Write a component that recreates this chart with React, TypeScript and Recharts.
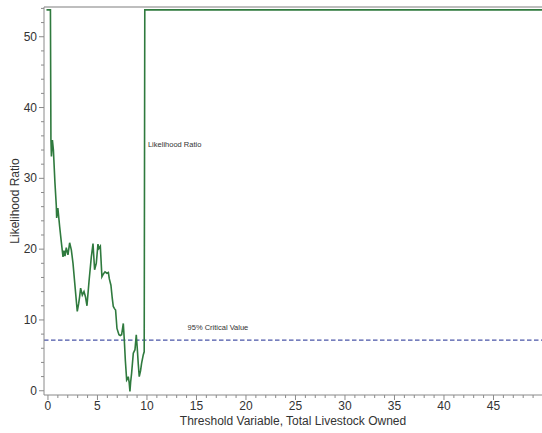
import React from 'react';
import {
    LineChart,
    Line,
    XAxis,
    YAxis,
    ReferenceLine,
    ReferenceDot,
    Label
} from 'recharts';

// Threshold values (total livestock owned) and the likelihood ratio
const thresholdX = [
    -0.15, 0.25, 0.3, 0.35, 0.45, 0.55, 0.7, 0.84, 0.88, 1.0,
    1.18, 1.35, 1.52, 1.62, 1.72, 1.85, 2.02, 2.19, 2.36, 2.53,
    2.75, 2.96, 3.1, 3.2, 3.3, 3.47, 3.64, 3.8, 3.94, 4.15,
    4.38, 4.55, 4.71, 4.88, 5.05, 5.15, 5.29, 5.45, 5.6, 5.76,
    5.95, 6.1, 6.2, 6.36, 6.5, 6.6, 6.72, 6.83, 6.97, 7.17,
    7.3, 7.44, 7.61, 7.71, 7.82, 7.95, 8.05, 8.11, 8.2, 8.28,
    8.35, 8.45, 8.62, 8.79, 8.92, 9.02, 9.12, 9.22, 9.35, 9.46,
    9.63, 9.72, 9.78, 49.9
];
const likelihoodRatio = [
    53.8, 53.8, 35.5, 33.1, 35.4, 34.0, 29.5, 26.2, 24.4, 25.8,
    23.2, 21.0, 18.9, 19.8, 19.0, 20.2, 19.2, 20.9, 19.9, 18.0,
    14.5, 11.2, 12.3, 13.3, 14.5, 13.5, 14.0, 13.2, 12.0, 15.5,
    18.9, 20.8, 17.1, 18.0, 20.7, 20.1, 20.4, 16.1, 16.5, 16.8,
    16.6, 16.7, 15.8, 14.9, 13.0, 11.9, 11.6, 11.4, 8.8, 7.9,
    7.8, 7.9, 9.5, 7.2, 4.2, 1.5, 1.7, 2.0, 1.2, -0.1,
    1.2, 2.5, 5.3, 5.8, 7.9, 6.0, 3.8, 2.0, 2.8, 3.9,
    5.1, 5.5, 53.8, 53.8
];

const criticalValue = 7.15;

const xMajorTicks = [0, 5, 10, 15, 20, 25, 30, 35, 40, 45];
const yMajorTicks = [0, 10, 20, 30, 40, 50];
// minor ticks every 1 on x, every 2 on y
const xTicks = Array.from({ length: 50 }, (_, i) => i);
const yTicks = Array.from({ length: 28 }, (_, i) => i * 2);

const X_DOMAIN: [number, number] = [-0.4, 49.9];
const Y_DOMAIN: [number, number] = [-0.6, 54.2];

const data = thresholdX.map((x, i) => ({ x, lr: likelihoodRatio[i] }));

const FONT = '"Liberation Sans", Arial, sans-serif';
const AXIS_GRAY = '#8a8a8a';

const AXIS_Y_POS = 395; // x-axis line
const AXIS_X_POS = 44;  // y-axis line

const XTick = (props: any) => {
    const { x, payload } = props;
    const major = xMajorTicks.includes(payload.value);
    return (
        <g>
            <line x1={x} x2={x} y1={AXIS_Y_POS} y2={AXIS_Y_POS + (major ? 5 : 3)} stroke={AXIS_GRAY} />
            {major && (
                <text x={x} y={409.5} textAnchor="middle" fontSize={12} fill="#333" fontFamily={FONT}>
                    {payload.value}
                </text>
            )}
        </g>
    );
};

const YTick = (props: any) => {
    const { y, payload } = props;
    const major = yMajorTicks.includes(payload.value);
    return (
        <g>
            <line x1={AXIS_X_POS - (major ? 5 : 3)} x2={AXIS_X_POS} y1={y} y2={y} stroke={AXIS_GRAY} />
            {major && (
                <text x={37} y={y + 4} textAnchor="end" fontSize={12} fill="#333" fontFamily={FONT}>
                    {payload.value}
                </text>
            )}
        </g>
    );
};

const annotation = (text: string) => (p: any) => (
    <text x={p.cx} y={p.cy} fontSize={7.5} fill="#333" fontFamily={FONT}>
        {text}
    </text>
);

export default function App() {
    return (
        <div style={{ position: 'absolute', left: 0, top: 0, background: '#fff' }}>
            <LineChart
                width={542}
                height={433}
                data={data}
                margin={{ top: 7, right: 0, left: 0, bottom: 0 }}
            >
                <XAxis
                    type="number"
                    dataKey="x"
                    domain={X_DOMAIN}
                    allowDataOverflow
                    ticks={xTicks}
                    interval={0}
                    height={38}
                    stroke={AXIS_GRAY}
                    tickLine={false}
                    tick={<XTick />}
                >
                    <Label
                        content={(p: any) => (
                            <text
                                x={p.viewBox.x + p.viewBox.width / 2}
                                y={424.5}
                                textAnchor="middle"
                                fontSize={12}
                                fill="#333"
                                fontFamily={FONT}
                            >
                                Threshold Variable, Total Livestock Owned
                            </text>
                        )}
                    />
                </XAxis>
                <YAxis
                    type="number"
                    domain={Y_DOMAIN}
                    allowDataOverflow
                    ticks={yTicks}
                    interval={0}
                    width={44}
                    stroke={AXIS_GRAY}
                    tickLine={false}
                    tick={<YTick />}
                >
                    <Label
                        content={() => (
                            <text
                                x={19}
                                y={201}
                                transform="rotate(-90, 19, 201)"
                                textAnchor="middle"
                                fontSize={12}
                                fill="#333"
                                fontFamily={FONT}
                            >
                                Likelihood Ratio
                            </text>
                        )}
                    />
                </YAxis>
                {/* top frame */}
                <ReferenceLine y={Y_DOMAIN[1]} stroke="#a8a8a8" strokeWidth={1.5} />
                <ReferenceLine
                    y={criticalValue}
                    stroke="#4a55a8"
                    strokeWidth={1.2}
                    strokeDasharray="4.5 2.5"
                />
                <Line
                    type="linear"
                    dataKey="lr"
                    stroke="#2f7a3e"
                    strokeWidth={1.6}
                    dot={false}
                    isAnimationActive={false}
                />
                <ReferenceDot x={10.1} y={34.4} r={0} shape={annotation('Likelihood Ratio')} />
                <ReferenceDot x={14.1} y={8.6} r={0} shape={annotation('95% Critical Value')} />
            </LineChart>
        </div>
    );
}
